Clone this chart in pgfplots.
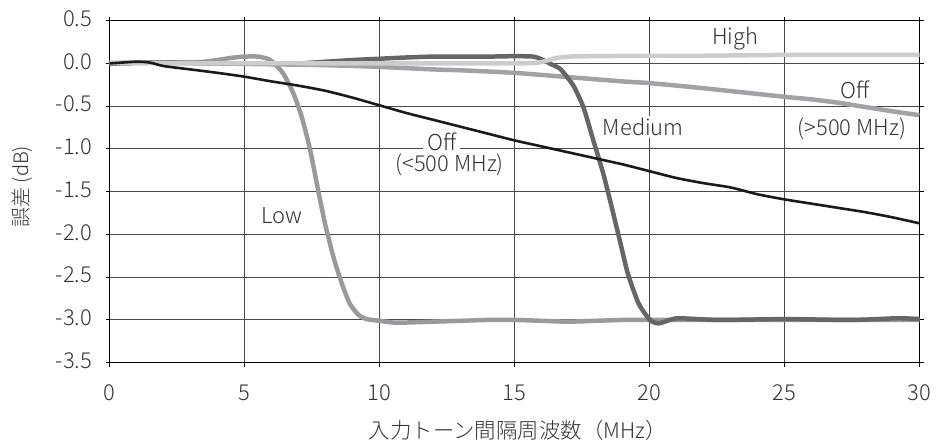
\documentclass[border=0pt]{standalone}
\usepackage{pgfplots}
\pgfplotsset{compat=1.18}
\usepackage{fontspec}
\setmainfont{Noto Sans CJK JP}[UprightFont={* Light}]
\definecolor{gridc}{HTML}{4A4A4A}
\definecolor{txtc}{HTML}{333333}
\definecolor{highc}{HTML}{CCCCCC}
\definecolor{offc}{HTML}{A2A2A4}
\definecolor{lowc}{HTML}{9A9A9C}
\definecolor{medc}{HTML}{666666}
\definecolor{blkc}{HTML}{1A1A1A}
\begin{document}
\begin{tikzpicture}
\path[use as bounding box] (0,0) rectangle (936bp,446bp);
\begin{axis}[
  at={(109.5bp,83.3bp)}, anchor=south west,
  scale only axis, width=810bp, height=342bp,
  xmin=0, xmax=30, ymin=-3.5, ymax=0.5,
  xtick={0,5,...,30},
  ytick={-3.5,-3,...,0.5},
  yticklabels={-3.5,-3.0,-2.5,-2.0,-1.5,-1.0,-0.5,0.0,0.5},
  xticklabels={0,5,10,15,20,25,30},
  tick align=outside, major tick length=4bp,
  tick style={black, line width=1pt},
  axis line style={black, line width=1.1pt},
  grid=major, grid style={gridc, line width=1.1pt},
  font=\fontsize{22}{26}\selectfont\color{txtc},
  xticklabel style={anchor=base, yshift=-34bp},
  yticklabel style={anchor=east, xshift=-10bp, yshift=2bp},
  xlabel={入力トーン間隔周波数（MHz）},
  ylabel={誤差 (dB)},
  xlabel style={at={(axis description cs:0.504,-0.197)}, anchor=center, font=\fontsize{21.5}{25}\selectfont\color{txtc}},
  ylabel style={at={(axis description cs:-0.108,0.515)}, anchor=center, font=\fontsize{20}{24}\selectfont\color{txtc}},
  clip=true,
]
% Low
\addplot[lowc, line width=4.5pt, line join=round, smooth, tension=0.4] coordinates {
(0,0) (1,0.01) (2,0.01) (3,0.01) (3.5,0.02) (4,0.04) (4.5,0.065) (5,0.08) (5.5,0.08) (5.9,0.05) (6.1,0.0)
(6.44,-0.12) (6.81,-0.35) (7.12,-0.625) (7.43,-1.01) (7.70,-1.44) (7.98,-1.87) (8.29,-2.26)
(8.6,-2.57) (8.9,-2.81) (9.22,-2.94) (9.52,-2.99) (10,-3.01) (10.5,-3.03) (11,-3.03) (12,-3.02)
(13,-3.01) (14,-3.0) (15,-3.0) (16,-3.01) (17,-3.02) (18,-3.01) (19,-3.0) (20,-3.0) (22,-3.0) (25,-3.0) (30,-3.0)};
% Off >500
\addplot[offc, line width=4.5pt, smooth, tension=0.4] coordinates {
(0,0) (2,0.01) (4,0.0) (6,-0.01) (8,-0.02) (10,-0.04) (12,-0.07) (13,-0.08) (15,-0.11) (17,-0.16)
(19,-0.21) (20,-0.23) (22,-0.29) (25,-0.39) (26,-0.42) (27,-0.46) (28,-0.51) (29,-0.56) (30,-0.605)};
% Medium
\addplot[medc, line width=4.5pt, smooth, tension=0.4] coordinates {
(0,0) (2,0.01) (4,0.0) (6,0.0) (7,0.0) (8,0.02) (9,0.04) (10,0.055) (11,0.07) (12,0.08) (13,0.08) (14,0.08)
(15,0.085) (15.7,0.08) (16,0.05) (16.3,0.0) (16.68,-0.06) (16.95,-0.16) (17.2,-0.27) (17.55,-0.51) (17.92,-0.9)
(18.29,-1.29) (18.6,-1.68) (18.9,-2.07) (19.2,-2.46) (19.6,-2.81) (20.02,-3.0) (20.33,-3.04) (20.76,-3.0)
(21.1,-2.98) (22.6,-3.0) (25,-2.99) (27.5,-3.0) (29.2,-2.98) (30,-2.99)};
% High
\addplot[highc, line width=4.5pt, smooth, tension=0.4] coordinates {
(0,0.01) (3,0.0) (6,0.0) (9,0.0) (12,0.0) (15,0.0) (15.9,0.01) (16.5,0.06) (17,0.08) (18,0.085)
(20,0.09) (22,0.09) (25,0.1) (28,0.1) (30,0.1)};
% Off <500
\addplot[blkc, line width=2.6pt, smooth, tension=0.4] coordinates {
(0,0) (1,0.02) (1.5,0.01) (2,-0.03) (3,-0.07) (4,-0.11) (5,-0.155) (6,-0.21) (7,-0.26) (8,-0.32)
(9,-0.4) (10,-0.49) (11,-0.58) (12,-0.66) (13,-0.74) (14,-0.82) (15,-0.9) (16,-0.97) (17,-1.04)
(18,-1.11) (19,-1.18) (20,-1.26) (21,-1.34) (22,-1.40) (23,-1.45) (24,-1.53) (25,-1.59) (26,-1.64)
(27,-1.69) (28,-1.74) (29,-1.80) (30,-1.87)};
\node[font=\fontsize{22}{26}\selectfont, text=txtc] at (axis cs:23.17,0.295) {High};
\node[font=\fontsize{22}{26}\selectfont, text=txtc] at (axis cs:27.6,-0.31) {Off};
\node[font=\fontsize{22}{26}\selectfont, text=txtc] at (axis cs:27.5,-0.76) {(>500 MHz)};
\node[font=\fontsize{22}{26}\selectfont, text=txtc, fill=white, inner sep=2pt] at (axis cs:19.77,-0.742) {Medium};
\node[font=\fontsize{22}{26}\selectfont, text=txtc, fill=white, inner xsep=4pt, inner ysep=0pt, text depth=0pt] at (axis cs:12.3,-0.915) {Off};
\node[font=\fontsize{22}{26}\selectfont, text=txtc, inner sep=0pt] at (axis cs:12.6,-1.19) {(<500 MHz)};
\node[font=\fontsize{22}{26}\selectfont, text=txtc] at (axis cs:6.38,-1.775) {Low};
\end{axis}
\end{tikzpicture}
\end{document}
